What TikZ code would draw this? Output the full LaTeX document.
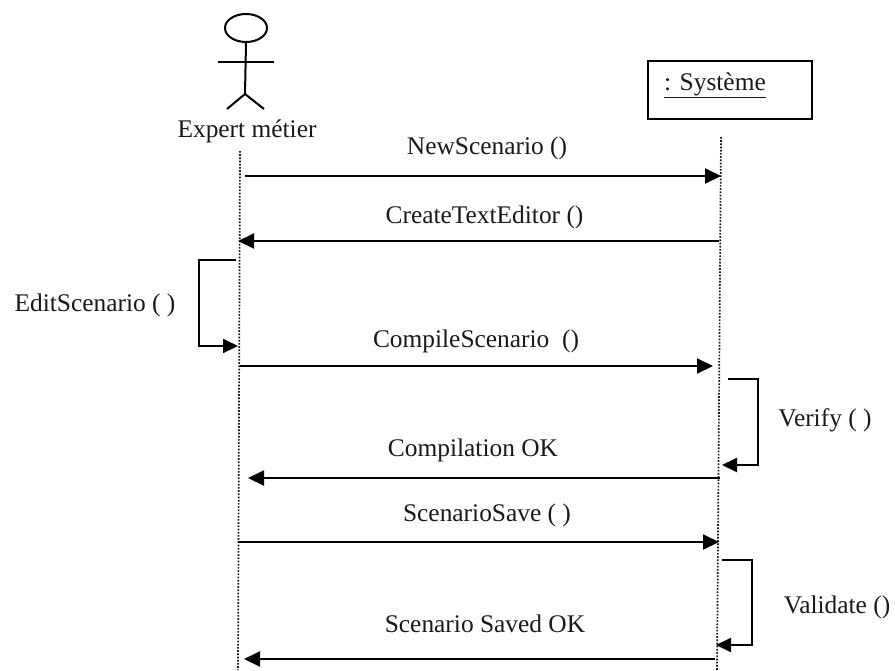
\documentclass[tikz,border=0pt]{standalone}
\usepackage{fontspec}
\setmainfont{Liberation Serif}
\usetikzlibrary{arrows.meta,shapes.geometric}
\tikzset{
  x=1pt,y=-1pt,
  life/.style={line width=1.7pt,dash pattern=on 1.7pt off 1.5pt,black!90},
  msg/.style={line width=2pt,-{Triangle[length=16pt,width=15pt]}},
  selfmsg/.style={line width=2pt,-{Triangle[length=15pt,width=14pt]}},
  actorline/.style={line width=2pt},
  lbl/.style={font=\fontsize{25.4pt}{27pt}\selectfont,inner sep=0pt,text=black!90},
}
\begin{document}
\begin{tikzpicture}
\useasboundingbox (0,0) rectangle (895,670);
% actor
\node[draw,actorline,ellipse,minimum width=42pt,minimum height=28pt,inner sep=0pt] (head) at (246,28) {};
\coordinate (hip) at (245,94);
\coordinate (armL) at (218,61.5);
\coordinate (armR) at (274,61.5);
\coordinate (legL) at (227,109);
\coordinate (legR) at (264,109);
\draw[actorline] (head.south) -- (hip);
\draw[actorline] (armL) -- (armR);
\draw[actorline] (legL) -- (hip) -- (legR);
\node[lbl] (expert) at (247,131) {Expert métier};
% system box
\node[draw,line width=2pt,minimum width=164pt,minimum height=58pt,inner sep=0pt] (sys) at (730,90) {};
\node[lbl] (systxt) at (715,85) {\underline{: Système}};
% lifelines
\coordinate (lt) at (240,151);
\coordinate (lb) at (238,670);
\coordinate (rt) at (721,137);
\coordinate (rb) at (717,670);
\draw[life] (lt) -- (lb);
\draw[life] (rt) -- (rb);
% messages
\coordinate (a1) at (245,176); \coordinate (b1) at (721,176);
\coordinate (a2) at (238,241); \coordinate (b2) at (719,241);
\coordinate (a3) at (240,366); \coordinate (b3) at (713,366);
\coordinate (a4) at (248,478); \coordinate (b4) at (720,478);
\coordinate (a5) at (238,542); \coordinate (b5) at (719,542);
\coordinate (a6) at (244,659); \coordinate (b6) at (715,659);
\draw[msg] (a1) -- (b1);
\draw[msg] (b2) -- (a2);
\draw[msg] (a3) -- (b3);
\draw[msg] (b4) -- (a4);
\draw[msg] (a5) -- (b5);
\draw[msg] (b6) -- (a6);
% self messages
\coordinate (e1) at (236,260); \coordinate (e2) at (199,260); \coordinate (e3) at (199,346); \coordinate (e4) at (238,346);
\draw[selfmsg] (e1) -- (e2) -- (e3) -- (e4);
\coordinate (v1) at (728,379); \coordinate (v2) at (758,379); \coordinate (v3) at (758,465); \coordinate (v4) at (722,465);
\draw[selfmsg] (v1) -- (v2) -- (v3) -- (v4);
\coordinate (w1) at (722,560); \coordinate (w2) at (752,560); \coordinate (w3) at (752,645); \coordinate (w4) at (716,645);
\draw[selfmsg] (w1) -- (w2) -- (w3) -- (w4);
% labels
\node[lbl] (m1) at (487,148) {NewScenario ()};
\node[lbl] (m2) at (484.5,217) {CreateTextEditor ()};
\node[lbl] (m3) at (95,305) {EditScenario ( )};
\node[lbl] (m4) at (476,341) {CompileScenario~ ()};
\node[lbl] (m5) at (825,420) {Verify ( )};
\node[lbl] (m6) at (473,450) {Compilation OK};
\node[lbl] (m7) at (487,515) {ScenarioSave ( )};
\node[lbl] (m8) at (837,607) {Validate ()};
\node[lbl] (m9) at (485,624) {Scenario Saved OK};
\end{tikzpicture}
\end{document}
